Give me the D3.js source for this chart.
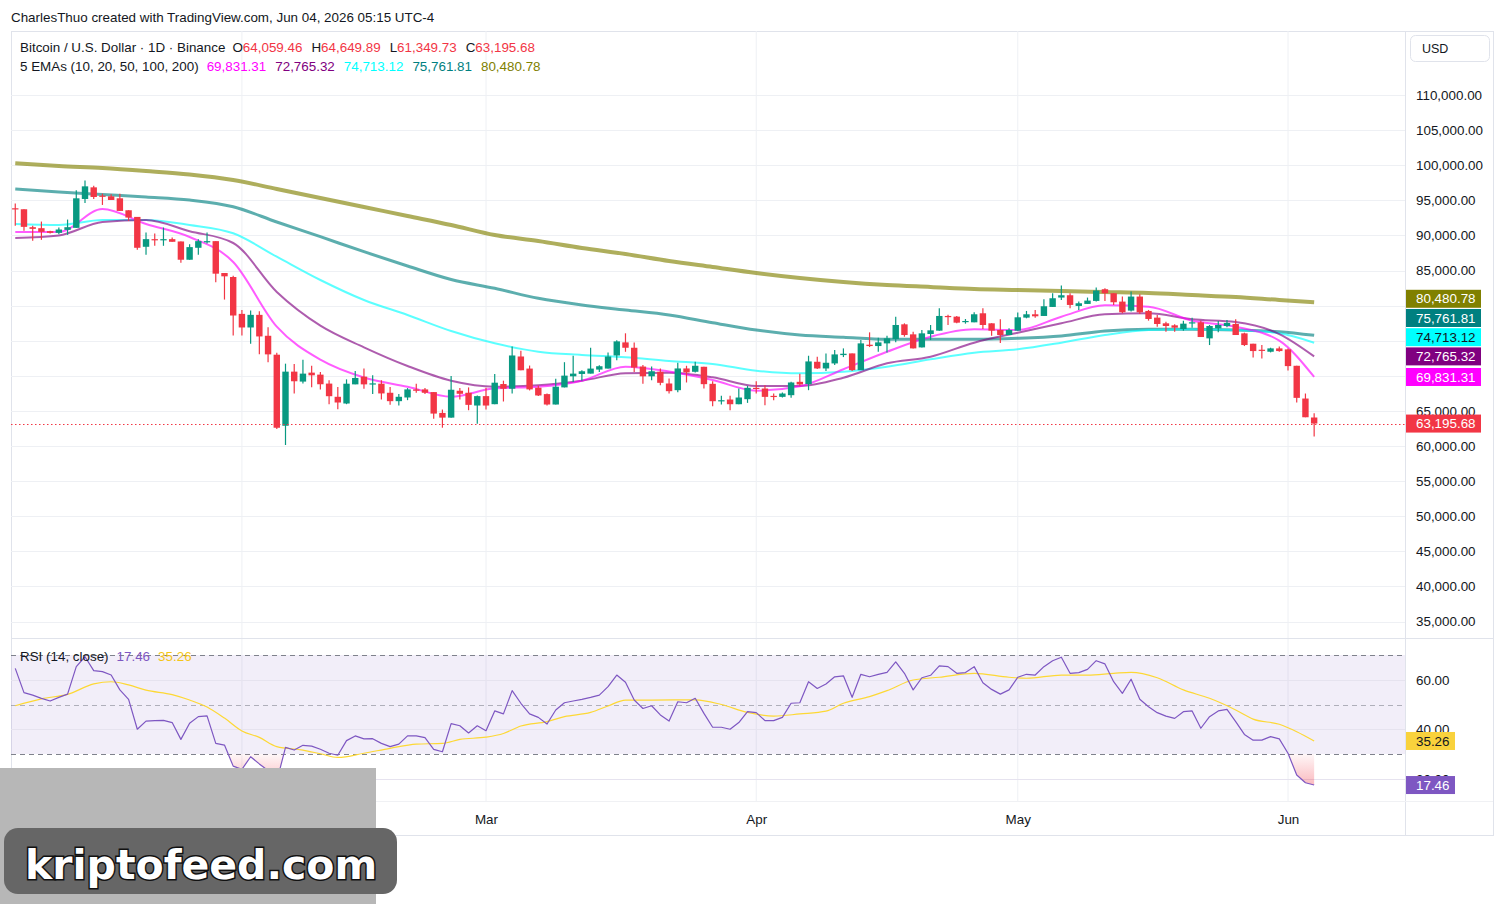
<!DOCTYPE html>
<html>
<head>
<meta charset="utf-8">
<script src="https://cdn.jsdelivr.net/npm/d3@7"></script>
<style>
  html, body { margin: 0; padding: 0; background: #fff; }
  svg { display: block; font-family: "Liberation Sans", Arial, sans-serif; }
</style>
</head>
<body>
<svg id="chart" width="1504" height="904"></svg>
<script>
'use strict';

// daily candles, first one on Jan 6 2026, [open, high, low, close]
var firstDay = '2026-01-06';
var candles = [
  [93865, 94527, 91358, 93770], [93723, 93723, 90648, 91216], [91169, 91358, 89229, 90932],
  [91027, 91973, 89371, 90507], [90601, 90648, 90270, 90365], [90365, 91121, 90175, 90838],
  [90790, 92257, 90081, 91169], [91074, 96419, 91074, 95284], [95189, 97838, 94622, 96987],
  [96845, 97081, 95189, 95473], [95662, 95946, 94338, 95568], [95568, 95851, 95047, 95047],
  [95284, 95946, 93486, 93486], [93581, 93581, 92067, 92540], [92635, 92635, 87952, 88236],
  [88378, 90412, 87243, 89466], [89466, 90270, 88520, 89371], [89371, 91121, 88520, 89466],
  [89466, 89702, 89088, 89088], [89135, 89135, 86108, 86533], [86533, 88756, 86533, 88331],
  [88236, 89466, 87243, 89182], [89088, 90412, 88851, 89182], [89182, 89182, 83317, 84547],
  [84641, 84641, 80857, 84168], [84074, 84263, 75749, 78587], [78823, 79391, 75749, 76884],
  [76884, 79296, 74566, 78681], [78681, 79202, 73053, 75607], [75701, 76931, 71918, 73053],
  [73005, 73289, 62410, 62600], [62883, 71728, 60140, 70593], [70593, 71681, 67471, 69222],
  [69174, 72296, 68890, 70309], [70451, 71445, 68370, 70073], [70167, 70546, 68039, 68796],
  [68890, 69364, 65958, 67093], [67009, 68397, 65239, 66196], [66052, 69497, 65956, 68875],
  [68780, 70694, 68780, 69689], [69880, 71028, 68158, 68780], [68828, 70071, 67392, 68923],
  [68875, 69354, 66626, 67488], [67583, 68397, 65861, 66387], [66387, 67392, 65765, 67009],
  [66913, 68253, 66530, 68062], [68062, 68875, 67583, 67870], [68062, 68253, 67392, 67583],
  [67679, 67679, 63899, 64616], [64712, 65191, 62607, 64042], [64042, 69976, 64042, 68014],
  [67870, 68253, 66626, 67439], [67583, 68349, 65095, 65861], [65765, 67200, 63181, 67105],
  [67105, 68301, 65191, 65765], [65956, 70263, 65956, 69019], [68828, 69306, 66339, 68158],
  [68158, 74187, 67488, 72895], [72751, 73565, 70789, 70789], [71028, 71459, 67918, 68062],
  [68301, 68636, 67105, 67200], [67392, 67488, 65765, 65909], [65909, 69593, 65909, 68445],
  [68349, 71938, 68349, 70024], [69928, 72847, 69115, 70311], [70263, 70789, 69306, 70646],
  [70311, 73995, 70311, 71028], [70885, 71507, 70550, 71363], [71028, 73325, 71028, 72751],
  [72895, 75048, 72225, 74904], [74761, 76053, 73421, 73995], [73995, 74761, 70550, 71172],
  [71316, 71555, 68875, 69928], [69928, 71316, 69354, 70646], [70571, 71047, 68667, 69000],
  [68905, 69619, 67476, 67809], [67952, 71857, 67667, 71047], [71047, 71428, 69047, 70476],
  [70571, 72000, 70476, 71428], [71285, 71285, 68190, 68809], [68857, 69238, 65667, 66381],
  [66381, 67143, 65905, 66524], [66619, 67143, 65095, 65952], [65952, 68190, 65952, 66905],
  [66667, 68571, 66143, 68286], [68286, 69238, 67476, 68143], [68190, 68667, 65810, 67000],
  [67143, 67476, 66524, 67000], [67000, 67619, 66905, 67476], [67238, 69143, 66857, 69047],
  [69143, 70286, 68571, 68762], [68809, 72857, 67952, 72048], [72000, 72714, 70952, 71047],
  [71047, 73190, 70667, 71857], [71762, 73667, 71524, 73047], [72952, 73905, 72667, 73143],
  [73190, 73190, 70667, 70809], [70809, 75095, 70809, 74619], [74428, 76190, 74095, 74238],
  [74238, 75428, 73428, 74762], [74619, 75714, 73333, 75333], [75238, 78428, 74762, 77238],
  [77333, 77476, 75571, 75809], [75905, 76286, 73905, 73905], [74047, 76524, 74047, 76047],
  [75952, 77238, 75095, 76476], [76428, 79619, 76428, 78524], [78524, 78714, 77238, 78381],
  [78428, 78524, 77476, 77571], [77667, 78095, 77428, 77809], [77619, 79047, 77619, 78762],
  [78905, 79619, 76667, 77238], [77476, 77476, 75714, 76428], [76524, 78047, 74667, 75809],
  [75809, 76762, 75809, 76524], [76428, 79000, 76428, 78333], [78286, 79238, 78190, 78762],
  [78762, 79381, 78286, 78476], [78524, 80905, 78524, 79905], [79809, 81762, 79809, 81047],
  [81143, 82857, 80809, 81476], [81476, 81762, 79619, 80095], [79952, 80571, 79381, 80333],
  [80238, 81143, 80238, 80714], [80667, 82571, 80571, 82143], [82333, 82476, 80667, 81762],
  [81762, 81762, 80095, 80476], [80571, 81286, 78905, 79047], [79286, 82000, 79143, 81286],
  [81286, 81619, 78809, 79047], [79238, 79381, 77857, 78095], [78286, 78667, 77000, 77381],
  [77476, 77714, 76286, 77095], [77190, 77333, 76286, 76857], [76667, 77857, 76428, 77428],
  [77524, 78286, 76857, 77619], [77619, 77857, 75524, 75524], [75333, 77238, 74381, 77095],
  [76762, 77809, 76190, 77238], [77095, 77952, 76905, 77524], [77381, 78047, 75809, 75809],
  [76047, 76143, 74238, 74381], [74571, 74571, 72619, 73524], [73714, 74381, 72476, 73571],
  [73428, 74000, 73333, 73905], [73905, 74190, 73428, 73524], [73762, 73905, 70762, 71381],
  [71428, 71428, 66190, 66857], [66762, 67476, 64095, 64095], [64059.46, 64649.89, 61349.73, 63195.68]
];

// EMA readings, sampled at these candle indexes
var emaDays = [0, 5, 10, 15, 20, 25, 30, 35, 40, 45, 50, 55, 60, 65, 70, 75, 80, 85, 90, 95,
  100, 105, 110, 115, 120, 125, 130, 135, 140, 145, 149];
var ema10 = [90484, 90484, 93761, 91624, 89772, 86211, 76994, 72300, 69760, 68450, 67020, 68220,
  68450, 69300, 71300, 70600, 69400, 67880, 68500, 70930, 73430, 75570, 76620, 76520, 78420,
  80040, 79840, 77850, 76990, 75000, 69831.31];
var ema20 = [89630, 89986, 91909, 92194, 90600, 88917, 81937, 77140, 74060, 71400, 69300, 68450,
  68650, 69300, 70360, 70440, 69790, 68550, 68550, 69730, 71780, 72720, 74720, 76140, 77480,
  78760, 78900, 78050, 77660, 75950, 72765.32];
var ema50 = [91624, 91481, 92194, 92194, 91480, 90300, 86966, 83647, 80798, 78661, 76382, 74630,
  73433, 72963, 72635, 72108, 71681, 70726, 70356, 70584, 71296, 72350, 73291, 73775, 74715,
  75812, 76524, 76624, 76524, 76054, 74713.12];
var ema100 = [96610, 96182, 95826, 95470, 95043, 94088, 91909, 89815, 87678, 85641, 83718, 82464,
  81040, 80085, 79373, 78661, 77564, 76524, 75812, 75484, 75199, 75199, 75199, 75342, 75670,
  76382, 76624, 76624, 76524, 76282, 75761.81];
var ema200 = [100285, 99886, 99601, 99174, 98675, 97892, 96610, 95328, 94046, 92764, 91481, 90057,
  89202, 88205, 87350, 86353, 85498, 84644, 83932, 83362, 82934, 82650, 82365, 82222, 82080,
  81937, 81795, 81510, 81225, 80798, 80480.78];

// RSI(14), one value per candle
var rsi = [
  64.6, 54.8, 53.8, 52.5, 51.4, 52.9, 54.2, 65.3, 69.3, 63.7,
  63.3, 61.9, 55.9, 52.1, 40.0, 43.3, 43.5, 43.6, 42.7, 35.9,
  42.4, 45.1, 45.4, 34.3, 33.6, 25.1, 23.8, 28.9, 26.0, 23.3,
  19.0, 32.7, 31.6, 33.5, 33.2, 31.9, 30.3, 29.5, 35.4, 37.3,
  36.1, 36.2, 34.3, 33.0, 34.0, 37.3, 37.3, 36.6, 31.9, 30.9,
  42.3, 41.4, 38.5, 41.4, 39.4, 47.4, 46.2, 55.6, 50.5, 46.2,
  44.8, 42.1, 47.8, 50.7, 51.4, 52.1, 52.9, 53.8, 57.2, 61.9,
  59.0, 51.8, 48.4, 49.5, 45.8, 43.3, 51.1, 50.7, 52.5, 46.4,
  40.8, 40.8, 40.0, 42.7, 47.1, 46.7, 43.5, 43.5, 44.8, 50.5,
  50.7, 59.2, 56.5, 58.3, 61.2, 61.6, 52.9, 62.2, 61.2, 62.2,
  63.0, 67.2, 62.6, 55.9, 60.8, 61.8, 65.6, 65.3, 62.6, 62.9,
  65.3, 58.8, 56.1, 54.2, 55.9, 61.0, 62.2, 61.9, 65.3, 67.7,
  69.1, 62.6, 62.9, 64.2, 67.7, 66.4, 59.2, 54.5, 60.2, 52.1,
  49.1, 46.7, 45.3, 44.4, 47.1, 47.4, 40.4, 45.1, 47.4, 48.0,
  43.1, 37.9, 35.6, 35.6, 37.0, 36.1, 30.3, 21.5, 18.4, 17.46
];
// RSI moving average, sampled
var rsiMaDays = [0, 3, 6, 9, 11, 13, 15, 18, 20, 22, 24, 26, 28, 30, 33, 35, 37, 40, 43, 46, 49,
  51, 54, 56, 58, 61, 63, 66, 68, 70, 73, 78, 81, 84, 87, 90, 93, 95, 98, 100, 103, 106, 110,
  114, 116, 120, 123, 126, 128, 131, 134, 137, 140, 142, 145, 147, 149];
var rsiMa = [49.5, 52.3, 54.1, 58.3, 59.2, 57.9, 55.8, 54.0, 51.8, 49.0, 44.5, 39.3, 36.7, 33.0,
  31.6, 30.1, 28.6, 30.3, 32.3, 34.0, 34.3, 35.9, 36.8, 38.3, 41.3, 43.1, 45.1, 46.8, 49.4,
  51.8, 51.8, 51.9, 50.0, 46.8, 45.3, 46.2, 47.3, 50.5, 53.2, 55.6, 59.9, 61.0, 62.6, 61.0,
  60.6, 61.9, 61.9, 62.6, 63.0, 60.8, 55.9, 52.5, 47.8, 44.1, 42.0, 39.0, 35.26];

var priceTicks = [35000, 40000, 45000, 50000, 55000, 60000, 65000, 70000, 75000, 80000, 85000,
  90000, 95000, 100000, 105000, 110000];
var rsiTicks = [20, 40, 60];
var rsiLevels = [70, 50, 30];
var monthStarts = ['2026-02-01', '2026-03-01', '2026-04-01', '2026-05-01', '2026-06-01'];
var monthLabels = ['Feb', 'Mar', 'Apr', 'May', 'Jun'];

var emaNames = ['10', '20', '50', '100', '200'];
var emaSeries = [ema10, ema20, ema50, ema100, ema200];
var emaColors = ['#ff00ff', '#800080', '#00ffff', '#008080', '#808000'];
var emaWidths = [2, 2, 2, 3, 4];

var upColor = '#089981';
var downColor = '#f23645';
var textColor = '#131722';
var gridColor = '#eef0f4';
var borderColor = '#e0e3eb';
var fontSize = 13.4;
var fontFamily = '"Liberation Sans", Arial, sans-serif';

var frame = {left: 11, top: 31, right: 1493, bottom: 835};
var axisX = 1405;
var mainBottom = 638;
var rsiBottom = 801;

var parseDay = d3.utcParse('%Y-%m-%d');
var start = parseDay(firstDay);
var day = function(i) { return d3.utcDay.offset(start, i); };

var x = d3.scaleUtc()
  .domain([parseDay('2026-03-01'), parseDay('2026-06-01')])
  .range([486, 1288]);
var y = d3.scaleLinear().domain([60000, 110000]).range([446, 95]);
var ry = d3.scaleLinear().domain([30, 70]).range([754, 655]);

var fmtPrice = d3.format(',.2f');

var svg = d3.select('#chart');
var defs = svg.append('defs');

defs.append('clipPath').attr('id', 'clip-main')
  .append('rect')
  .attr('x', frame.left).attr('y', frame.top)
  .attr('width', axisX - frame.left).attr('height', mainBottom - frame.top);
defs.append('clipPath').attr('id', 'clip-rsi')
  .append('rect')
  .attr('x', frame.left).attr('y', mainBottom)
  .attr('width', axisX - frame.left).attr('height', rsiBottom - mainBottom);
defs.append('clipPath').attr('id', 'clip-oversold')
  .append('rect')
  .attr('x', frame.left).attr('y', ry(30))
  .attr('width', axisX - frame.left).attr('height', rsiBottom - ry(30));

var grad = defs.append('linearGradient').attr('id', 'oversold-fill')
  .attr('gradientUnits', 'userSpaceOnUse')
  .attr('x1', 0).attr('x2', 0).attr('y1', ry(30)).attr('y2', ry(16));
grad.append('stop').attr('offset', 0).attr('stop-color', '#f23645').attr('stop-opacity', 0.04);
grad.append('stop').attr('offset', 1).attr('stop-color', '#f23645').attr('stop-opacity', 0.38);

// header line
svg.append('text')
  .attr('x', 11).attr('y', 17).attr('dy', '0.35em')
  .attr('font-size', fontSize).attr('fill', textColor)
  .text('CharlesThuo created with TradingView.com, Jun 04, 2026 05:15 UTC-4');

// frame
svg.append('rect')
  .attr('x', frame.left + 0.5).attr('y', frame.top + 0.5)
  .attr('width', frame.right - frame.left).attr('height', frame.bottom - frame.top)
  .attr('fill', '#fff').attr('stroke', borderColor);

// grid
var grid = svg.append('g');
grid.selectAll('line.v').data(monthStarts).enter().append('line')
  .attr('x1', function(d) { return x(parseDay(d)); })
  .attr('x2', function(d) { return x(parseDay(d)); })
  .attr('y1', frame.top).attr('y2', rsiBottom)
  .attr('stroke', gridColor);
grid.selectAll('line.h').data(priceTicks).enter().append('line')
  .attr('x1', frame.left).attr('x2', axisX)
  .attr('y1', function(d) { return Math.round(y(d)) + 0.5; })
  .attr('y2', function(d) { return Math.round(y(d)) + 0.5; })
  .attr('stroke', gridColor)
  .attr('clip-path', 'url(#clip-main)');

// main pane
var main = svg.append('g').attr('clip-path', 'url(#clip-main)');

var emaLine = d3.line()
  .x(function(d) { return x(day(d[0])); })
  .y(function(d) { return y(d[1]); })
  .curve(d3.curveMonotoneX);

[4, 3, 2, 1, 0].forEach(function(k) {
  main.append('path')
    .datum(d3.zip(emaDays, emaSeries[k]))
    .attr('d', emaLine)
    .attr('fill', 'none')
    .attr('stroke', emaColors[k])
    .attr('stroke-opacity', 0.64)
    .attr('stroke-width', emaWidths[k])
    .attr('stroke-linejoin', 'round');
});

var candle = main.selectAll('g.candle').data(candles).enter().append('g')
  .attr('transform', function(d, i) { return 'translate(' + x(day(i)) + ',0)'; });
candle.append('line')
  .attr('y1', function(d) { return y(d[1]); })
  .attr('y2', function(d) { return y(d[2]); })
  .attr('stroke', function(d) { return d[3] >= d[0] ? upColor : downColor; })
  .attr('stroke-width', 1.2);
candle.append('rect')
  .attr('x', -3.2).attr('width', 6.4)
  .attr('y', function(d) { return y(Math.max(d[0], d[3])); })
  .attr('height', function(d) { return Math.max(1.2, Math.abs(y(d[0]) - y(d[3]))); })
  .attr('fill', function(d) { return d[3] >= d[0] ? upColor : downColor; });

var lastClose = candles[candles.length - 1][3];
svg.append('line')
  .attr('x1', frame.left).attr('x2', axisX)
  .attr('y1', Math.round(y(lastClose)) + 0.5).attr('y2', Math.round(y(lastClose)) + 0.5)
  .attr('stroke', downColor).attr('stroke-dasharray', '1.5,2.5');

// pane separators
svg.append('line')
  .attr('x1', frame.left).attr('x2', frame.right)
  .attr('y1', mainBottom + 0.5).attr('y2', mainBottom + 0.5)
  .attr('stroke', borderColor);
svg.append('line')
  .attr('x1', axisX + 0.5).attr('x2', axisX + 0.5)
  .attr('y1', frame.top).attr('y2', frame.bottom)
  .attr('stroke', borderColor);
svg.append('line')
  .attr('x1', frame.left).attr('x2', frame.right)
  .attr('y1', rsiBottom + 0.5).attr('y2', rsiBottom + 0.5)
  .attr('stroke', '#f0f1f4');

// RSI pane
var rsiG = svg.append('g').attr('clip-path', 'url(#clip-rsi)');
rsiG.append('rect')
  .attr('x', frame.left).attr('width', axisX - frame.left)
  .attr('y', ry(70)).attr('height', ry(30) - ry(70))
  .attr('fill', '#7e57c2').attr('fill-opacity', 0.1);
rsiG.selectAll('line.g').data(rsiTicks).enter().append('line')
  .attr('x1', frame.left).attr('x2', axisX)
  .attr('y1', function(d) { return Math.round(ry(d)) + 0.5; })
  .attr('y2', function(d) { return Math.round(ry(d)) + 0.5; })
  .attr('stroke', '#e6e3ef');
rsiG.selectAll('line.lvl').data(rsiLevels).enter().append('line')
  .attr('x1', frame.left).attr('x2', axisX)
  .attr('y1', function(d) { return Math.round(ry(d)) + 0.5; })
  .attr('y2', function(d) { return Math.round(ry(d)) + 0.5; })
  .attr('stroke', '#787b86')
  .attr('stroke-opacity', function(d) { return d === 50 ? 0.55 : 0.95; })
  .attr('stroke-dasharray', '5,4');

rsiG.append('path')
  .datum(rsi)
  .attr('clip-path', 'url(#clip-oversold)')
  .attr('d', d3.area()
    .x(function(d, i) { return x(day(i)); })
    .y0(ry(30))
    .y1(function(d) { return ry(d); }))
  .attr('fill', 'url(#oversold-fill)');

rsiG.append('path')
  .datum(d3.zip(rsiMaDays, rsiMa))
  .attr('d', d3.line()
    .x(function(d) { return x(day(d[0])); })
    .y(function(d) { return ry(d[1]); })
    .curve(d3.curveMonotoneX))
  .attr('fill', 'none').attr('stroke', '#fdd835').attr('stroke-width', 1.2);

rsiG.append('path')
  .datum(rsi)
  .attr('d', d3.line()
    .x(function(d, i) { return x(day(i)); })
    .y(function(d) { return ry(d); }))
  .attr('fill', 'none').attr('stroke', '#7e57c2').attr('stroke-width', 1.2)
  .attr('stroke-linejoin', 'round');

// legends
function legendRow(yPos, parts) {
  var g = svg.append('g');
  var cx = 20;
  parts.forEach(function(p) {
    var t = g.append('text')
      .attr('x', cx).attr('y', yPos).attr('dy', '0.35em')
      .attr('font-size', fontSize).attr('fill', p.color || textColor)
      .text(p.text);
    cx += t.node().getComputedTextLength() + (p.gap === undefined ? 0 : p.gap);
  });
}

var lastCandle = candles[candles.length - 1];
legendRow(47, [
  {text: 'Bitcoin / U.S. Dollar \u00b7 1D \u00b7 Binance', gap: 7},
  {text: 'O', gap: 0}, {text: fmtPrice(lastCandle[0]), color: downColor, gap: 9},
  {text: 'H', gap: 0}, {text: fmtPrice(lastCandle[1]), color: downColor, gap: 9},
  {text: 'L', gap: 0}, {text: fmtPrice(lastCandle[2]), color: downColor, gap: 9},
  {text: 'C', gap: 0}, {text: fmtPrice(lastCandle[3]), color: downColor, gap: 9}
]);
legendRow(66, [{text: '5 EMAs (' + emaNames.join(', ') + ')', gap: 8}].concat(
  emaSeries.map(function(s, k) {
    return {text: fmtPrice(s[s.length - 1]), color: emaColors[k], gap: 9};
  })
));
legendRow(656, [
  {text: 'RSI (14, close)', gap: 8},
  {text: d3.format('.2f')(rsi[rsi.length - 1]), color: '#7e57c2', gap: 8},
  {text: d3.format('.2f')(rsiMa[rsiMa.length - 1]), color: '#f5c518', gap: 0}
]);

// value labels on the price scale, stacked from the bottom up
var valueLabels = emaSeries.map(function(s, k) {
  return {v: s[s.length - 1], bg: emaColors[k], fg: k === 2 ? textColor : '#fff'};
});
valueLabels.push({v: lastClose, bg: downColor, fg: '#fff'});
valueLabels.forEach(function(l) { l.y = y(l.v); });
valueLabels.sort(function(a, b) { return b.y - a.y; });
for (var i = 1; i < valueLabels.length; i++) {
  valueLabels[i].y = Math.min(valueLabels[i].y, valueLabels[i - 1].y - 19.2);
}

// price axis
var priceAxis = svg.append('g')
  .attr('transform', 'translate(' + axisX + ',0)')
  .call(d3.axisRight(y).tickValues(priceTicks).tickSize(0).tickPadding(11).tickFormat(fmtPrice));
priceAxis.select('.domain').remove();
priceAxis.selectAll('text')
  .attr('font-size', fontSize).attr('font-family', fontFamily)
  .attr('fill', textColor);
priceAxis.selectAll('.tick')
  .filter(function(d) {
    return valueLabels.some(function(l) { return Math.abs(l.y - y(d)) < 10; });
  })
  .remove();

var vl = svg.append('g').selectAll('g').data(valueLabels).enter().append('g')
  .attr('transform', function(d) { return 'translate(' + (axisX + 1) + ',' + d.y + ')'; });
vl.append('rect')
  .attr('x', 0).attr('y', -9).attr('width', 75).attr('height', 18)
  .attr('fill', function(d) { return d.bg; });
vl.append('text')
  .attr('x', 10).attr('dy', '0.35em').attr('font-size', fontSize)
  .attr('fill', function(d) { return d.fg; })
  .text(function(d) { return fmtPrice(d.v); });

// RSI axis
var rsiAxis = svg.append('g')
  .attr('transform', 'translate(' + axisX + ',0)')
  .call(d3.axisRight(ry).tickValues(rsiTicks).tickSize(0).tickPadding(11).tickFormat(d3.format('.2f')));
rsiAxis.select('.domain').remove();
rsiAxis.selectAll('text')
  .attr('font-size', fontSize).attr('font-family', fontFamily)
  .attr('fill', textColor);

var rsiLabels = [
  {v: rsiMa[rsiMa.length - 1], bg: '#f9d23c', fg: textColor},
  {v: rsi[rsi.length - 1], bg: '#7e57c2', fg: '#fff'}
];
var rl = svg.append('g').selectAll('g').data(rsiLabels).enter().append('g')
  .attr('transform', function(d) { return 'translate(' + (axisX + 1) + ',' + ry(d.v) + ')'; });
rl.append('rect')
  .attr('x', 0).attr('y', -9).attr('width', 49).attr('height', 18)
  .attr('fill', function(d) { return d.bg; });
rl.append('text')
  .attr('x', 10).attr('dy', '0.35em').attr('font-size', fontSize)
  .attr('fill', function(d) { return d.fg; })
  .text(function(d) { return d3.format('.2f')(d.v); });

// time axis
var timeAxis = svg.append('g')
  .attr('transform', 'translate(0,' + rsiBottom + ')')
  .call(d3.axisBottom(x)
    .tickValues(monthStarts.map(parseDay))
    .tickSize(0).tickPadding(13)
    .tickFormat(function(d, i) { return monthLabels[i]; }));
timeAxis.select('.domain').remove();
timeAxis.selectAll('text')
  .attr('font-size', fontSize).attr('font-family', fontFamily)
  .attr('fill', textColor);

// currency button
svg.append('rect')
  .attr('x', 1410.5).attr('y', 35.5).attr('width', 79).attr('height', 26).attr('rx', 5)
  .attr('fill', '#fff').attr('stroke', borderColor);
svg.append('text')
  .attr('x', 1422).attr('y', 49).attr('dy', '0.35em')
  .attr('font-size', 12.5).attr('fill', textColor)
  .text('USD');

// watermark overlay
svg.append('rect')
  .attr('x', 0).attr('y', 768).attr('width', 376).attr('height', 136)
  .attr('fill', '#b7b7b7');
svg.append('rect')
  .attr('x', 4).attr('y', 828).attr('width', 393).attr('height', 66).attr('rx', 14)
  .attr('fill', '#666666');
svg.append('text')
  .attr('x', 25).attr('y', 879)
  .attr('font-family', '"DejaVu Sans", sans-serif')
  .attr('font-weight', 'bold').attr('font-size', 41)
  .attr('fill', '#fff').attr('stroke', '#111').attr('stroke-width', 3)
  .attr('paint-order', 'stroke')
  .text('kriptofeed.com');
</script>
</body>
</html>
